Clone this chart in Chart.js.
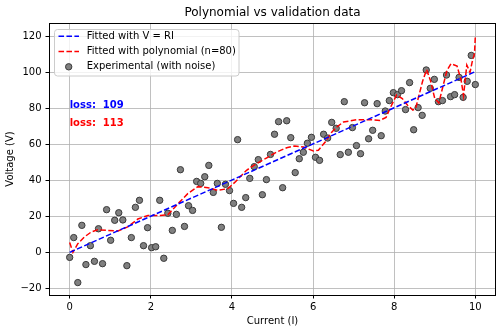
<!DOCTYPE html>
<html>
<head>
<meta charset="utf-8">
<script src="https://cdn.jsdelivr.net/npm/chart.js@4/dist/chart.umd.min.js"></script>
<style>
  html, body { margin: 0; padding: 0; background: #ffffff; }
  canvas { display: block; }
</style>
</head>
<body>
<canvas id="chart" width="502" height="333"></canvas>
<script>
// Measured current (I) and voltage (V) samples
const currentI = [
  0.00, 0.10, 0.20, 0.30, 0.40, 0.51, 0.61, 0.71, 0.81, 0.91,
  1.01, 1.11, 1.21, 1.31, 1.41, 1.52, 1.62, 1.72, 1.82, 1.92,
  2.02, 2.12, 2.22, 2.32, 2.42, 2.53, 2.63, 2.73, 2.83, 2.93,
  3.03, 3.13, 3.23, 3.33, 3.43, 3.54, 3.64, 3.74, 3.84, 3.94,
  4.04, 4.14, 4.24, 4.34, 4.44, 4.55, 4.65, 4.75, 4.85, 4.95,
  5.05, 5.15, 5.25, 5.35, 5.45, 5.56, 5.66, 5.76, 5.86, 5.96,
  6.06, 6.16, 6.26, 6.36, 6.46, 6.57, 6.67, 6.77, 6.87, 6.97,
  7.07, 7.17, 7.27, 7.37, 7.47, 7.58, 7.68, 7.78, 7.88, 7.98,
  8.08, 8.18, 8.28, 8.38, 8.48, 8.59, 8.69, 8.79, 8.89, 8.99,
  9.09, 9.19, 9.29, 9.39, 9.49, 9.60, 9.70, 9.80, 9.90, 10.00
];
const voltageV = [
  -2.8, 8.2, -16.8, 15, -6.8, 3.7, -5, 13.1, -6.3, 23.7,
  6.7, 17.8, 22, 18, -7.4, 8.2, 25, 28.9, 3.7, 13.7,
  2.6, 3.1, 28.9, -3.3, 21.7, 12.2, 21.1, 45.9, 14.4, 25.9,
  23.3, 39.4, 38.3, 42, 48.3, 33.3, 38.3, 13.9, 37.8, 34.3,
  27.2, 62.6, 25, 30.4, 41.1, 47.6, 51.5, 32, 40.4, 54.4,
  65.6, 72.6, 35.9, 73.1, 63.7, 44.3, 52, 55.6, 60.6, 63.9,
  52.8, 51.1, 65.6, 63.5, 72.2, 68.9, 54.3, 83.7, 55.6, 69.3,
  59.3, 54.8, 83.1, 63.1, 67.8, 82.6, 64.8, 78.5, 84.3, 88.7,
  87.6, 89.8, 79.3, 94.3, 68.1, 80.4, 76.1, 101.3, 91.1, 96.1,
  83.7, 84.3, 98.5, 86.5, 87.6, 97.2, 86.1, 95, 109.4, 93.2
];

// Linear model V = R*I, end points
const fitX = [0, 10];
const fitV = [0, 100.4];

// Degree-80 polynomial fit, sampled along the current axis
const polyX = [
  0, 0.08, 0.2, 0.36, 0.53, 0.69, 0.94, 1.19, 1.43, 1.68,
  1.93, 2.17, 2.42, 2.67, 2.91, 3.16, 3.41, 3.65, 3.9, 4.1,
  4.36, 4.61, 4.86, 5.1, 5.35, 5.55, 5.76, 6.01, 6.13, 6.3,
  6.45, 6.58, 6.75, 7.08, 7.41, 7.65, 7.8, 7.92, 8.06, 8.2,
  8.33, 8.46, 8.53, 8.6, 8.7, 8.8, 8.9, 9.0, 9.1, 9.2,
  9.3, 9.4, 9.55, 9.65, 9.71, 9.79, 9.87, 9.92, 9.98, 10
];
const polyV = [
  5.5, 0, 4.8, 8.5, 11.3, 12.5, 12.2, 11.9, 14.1, 18.5,
  20.5, 20.4, 20.9, 27, 32.6, 36.5, 35.9, 34.4, 35.4, 39.5,
  45.6, 49.3, 52.5, 55.7, 58.1, 59.1, 58.5, 56.3, 56.7, 61.3,
  66.5, 69.6, 72.4, 73.7, 73.7, 73.3, 75, 81, 87.5, 85.4,
  81.7, 79, 80, 86.3, 95, 101.5, 95, 85.5, 83, 92,
  101, 104.8, 103.5, 95.6, 87, 104, 100, 105.5, 110.4, 120
];

const xTicks = [0, 2, 4, 6, 8, 10];
const yTicks = [-20, 0, 20, 40, 60, 80, 100, 120];

const seriesLabels = ['Fitted with V = RI', 'Fitted with polynomial (n=80)', 'Experimental (with noise)'];
const lossTexts = ['loss:  109', 'loss:  113'];
const lossX = [0, 0];
const lossY = [80, 70];
const lossColors = ['#0000ff', '#ff0000'];

const FONT = 'DejaVu Sans';
const tickFont = { family: FONT, size: 10 };
const minusSign = v => String(v).replace('-', '\u2212');

// Spines, title, in-axes legend and loss annotations
const decorations = {
  id: 'decorations',
  afterDatasetsDraw(chart) {
    const { ctx, chartArea: a } = chart;
    ctx.save();
    ctx.strokeStyle = '#000000';
    ctx.lineWidth = 1;
    ctx.strokeRect(Math.round(a.left) + 0.5, Math.round(a.top) + 0.5,
                   Math.round(a.right - a.left) - 1, Math.round(a.bottom - a.top));
    ctx.restore();
  },
  afterDraw(chart) {
    const { ctx, chartArea: a, scales } = chart;
    const ds = chart.data.datasets;
    ctx.save();

    // title
    ctx.fillStyle = '#000000';
    ctx.font = `12px "${FONT}"`;
    ctx.textAlign = 'center';
    ctx.textBaseline = 'middle';
    ctx.fillText('Polynomial vs validation data', (a.left + a.right) / 2, 13);

    // loss annotations
    ctx.font = `bold 10px "${FONT}"`;
    ctx.textAlign = 'left';
    ctx.textBaseline = 'alphabetic';
    lossTexts.forEach((t, i) => {
      ctx.fillStyle = lossColors[i];
      ctx.fillText(t, scales.x.getPixelForValue(lossX[i]), scales.y.getPixelForValue(lossY[i]));
    });

    // legend
    const bx = 54.5, by = 29.5, bw = 184.5, bh = 46.5;
    ctx.beginPath();
    ctx.roundRect(bx, by, bw, bh, 3);
    ctx.fillStyle = 'rgba(255,255,255,0.8)';
    ctx.fill();
    ctx.strokeStyle = '#cccccc';
    ctx.lineWidth = 1;
    ctx.stroke();

    const rows = [36.2, 51.5, 66.8];
    ctx.font = `10px "${FONT}"`;
    ctx.textBaseline = 'middle';
    ds.forEach((d, i) => {
      const y = rows[i];
      if (d.showLine) {
        ctx.beginPath();
        ctx.setLineDash(d.borderDash);
        ctx.strokeStyle = d.borderColor;
        ctx.lineWidth = d.borderWidth;
        ctx.moveTo(58.5, y);
        ctx.lineTo(79, y);
        ctx.stroke();
        ctx.setLineDash([]);
      } else {
        ctx.beginPath();
        ctx.arc(68.7, y, d.pointRadius, 0, Math.PI * 2);
        ctx.fillStyle = d.backgroundColor;
        ctx.fill();
        ctx.strokeStyle = d.borderColor;
        ctx.lineWidth = d.borderWidth;
        ctx.stroke();
      }
      ctx.fillStyle = '#000000';
      ctx.fillText(d.label, 86.7, y);
    });
    ctx.restore();
  }
};

new Chart(document.getElementById('chart'), {
  type: 'scatter',
  data: {
    datasets: [
      {
        label: seriesLabels[0],
        data: fitX.map((x, i) => ({ x, y: fitV[i] })),
        showLine: true, fill: false,
        borderColor: '#0000ff', borderWidth: 1.5, borderDash: [5.55, 2.4],
        pointRadius: 0
      },
      {
        label: seriesLabels[1],
        data: polyX.map((x, i) => ({ x, y: polyV[i] })),
        showLine: true, fill: false,
        borderColor: '#ff0000', borderWidth: 1.5, borderDash: [5.55, 2.4],
        pointRadius: 0
      },
      {
        label: seriesLabels[2],
        data: currentI.map((x, i) => ({ x, y: voltageV[i] })),
        showLine: false,
        pointRadius: 3.2,
        backgroundColor: '#808080',
        borderColor: '#3a3a3a',
        borderWidth: 1
      }
    ]
  },
  options: {
    responsive: false,
    animation: false,
    devicePixelRatio: 1,
    layout: { padding: { top: 23, right: 6, left: 0, bottom: 0 } },
    plugins: {
      legend: { display: false },
      tooltip: { enabled: false },
      title: { display: false }
    },
    scales: {
      x: {
        type: 'linear',
        min: -0.51, max: 10.51,
        afterBuildTicks: s => { s.ticks = xTicks.map(v => ({ value: v })); },
        afterFit: s => { s.height = 38; },
        grid: { color: '#b0b0b0', lineWidth: 0.8, tickLength: 3.5, tickColor: '#000000', tickWidth: 1 },
        border: { display: false },
        ticks: { font: tickFont, color: '#000000', padding: 3, maxRotation: 0, autoSkip: false, callback: v => minusSign(v) },
        title: { display: true, text: 'Current (I)', font: tickFont, color: '#000000', padding: { top: 2, bottom: 6 } }
      },
      y: {
        type: 'linear',
        min: -23.7, max: 127.4,
        afterBuildTicks: s => { s.ticks = yTicks.map(v => ({ value: v })); },
        afterFit: s => { s.width = 49; },
        grid: { color: '#b0b0b0', lineWidth: 0.8, tickLength: 3.5, tickColor: '#000000', tickWidth: 1 },
        border: { display: false },
        ticks: { font: tickFont, color: '#000000', padding: 4, autoSkip: false, callback: v => minusSign(v) },
        title: { display: true, text: 'Voltage (V)', font: tickFont, color: '#000000', padding: { top: 4, bottom: 4 } }
      }
    }
  },
  plugins: [decorations]
});
</script>
</body>
</html>
